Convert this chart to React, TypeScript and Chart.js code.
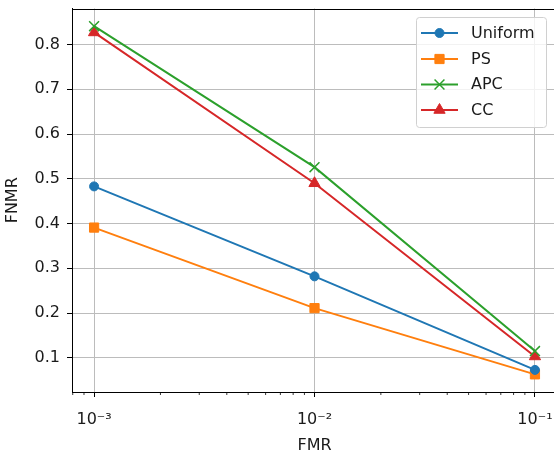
import React, { useEffect, useRef } from 'react';
import { Chart, registerables } from 'chart.js';

Chart.register(...registerables);

// ---- data ----
const fmrValues = [0.001, 0.01, 0.1];
const uniformValues = [0.483, 0.282, 0.073];
const psValues = [0.391, 0.211, 0.063];
const apcValues = [0.841, 0.526, 0.115];
const ccValues = [0.827, 0.49, 0.103];
const seriesNames = ['Uniform', 'PS', 'APC', 'CC'];
const yTickValues = [0.1, 0.2, 0.3, 0.4, 0.5, 0.6, 0.7, 0.8];
const xMajorTicks = [0.001, 0.01, 0.1];
const xMajorLabels = ['10⁻³', '10⁻²', '10⁻¹'];
const xMinorTicks = [
  0.0008, 0.0009,
  0.002, 0.003, 0.004, 0.005, 0.006, 0.007, 0.008, 0.009,
  0.02, 0.03, 0.04, 0.05, 0.06, 0.07, 0.08, 0.09,
];
const xLabel = 'FMR';
const yLabel = 'FNMR';

// ---- styles ----
const FONT = "'DejaVu Sans', sans-serif";
const FONT_SIZE = 16;
const TEXT_COLOR = '#1a1a1a';
const COLORS = ['#1f77b4', '#ff7f0e', '#2ca02c', '#d62728'];
const POINT_STYLES = ['circle', 'rect', 'crossRot', 'triangle'];
const POINT_RADII = [4.5, 6.5, 7, 6.5];
const GRID_COLOR = '#bcbcbc';

const CANVAS_W = 600;
const CANVAS_H = 454;

function drawMarker(ctx: CanvasRenderingContext2D, style: string, x: number, y: number, r: number, color: string) {
  ctx.save();
  ctx.fillStyle = color;
  ctx.strokeStyle = color;
  ctx.lineWidth = 1;
  ctx.beginPath();
  if (style === 'circle') {
    ctx.arc(x, y, r, 0, Math.PI * 2);
    ctx.fill();
    ctx.stroke();
  } else if (style === 'rect') {
    const s = Math.SQRT1_2 * r;
    ctx.rect(x - s, y - s, 2 * s, 2 * s);
    ctx.fill();
    ctx.stroke();
  } else if (style === 'crossRot') {
    const o = Math.SQRT1_2 * r;
    ctx.lineWidth = 1.5;
    ctx.moveTo(x - o, y - o);
    ctx.lineTo(x + o, y + o);
    ctx.moveTo(x - o, y + o);
    ctx.lineTo(x + o, y - o);
    ctx.stroke();
  } else if (style === 'triangle') {
    const a = (2 * Math.PI) / 3;
    ctx.moveTo(x, y - r);
    ctx.lineTo(x + Math.sin(a) * r, y - Math.cos(a) * r);
    ctx.lineTo(x + Math.sin(2 * a) * r, y - Math.cos(2 * a) * r);
    ctx.closePath();
    ctx.fill();
    ctx.stroke();
  }
  ctx.restore();
}

const decorPlugin = {
  id: 'decor',
  afterDatasetsDraw(chart: any) {
    const ctx: CanvasRenderingContext2D = chart.ctx;
    // legend
    const bx = 416.5, by = 17.5, bw = 130, bh = 110, rr = 3;
    ctx.save();
    ctx.beginPath();
    ctx.moveTo(bx + rr, by);
    ctx.lineTo(bx + bw - rr, by);
    ctx.quadraticCurveTo(bx + bw, by, bx + bw, by + rr);
    ctx.lineTo(bx + bw, by + bh - rr);
    ctx.quadraticCurveTo(bx + bw, by + bh, bx + bw - rr, by + bh);
    ctx.lineTo(bx + rr, by + bh);
    ctx.quadraticCurveTo(bx, by + bh, bx, by + bh - rr);
    ctx.lineTo(bx, by + rr);
    ctx.quadraticCurveTo(bx, by, bx + rr, by);
    ctx.closePath();
    ctx.fillStyle = 'rgba(255,255,255,0.8)';
    ctx.fill();
    ctx.strokeStyle = '#d0d0d0';
    ctx.lineWidth = 1;
    ctx.stroke();
    const rowY = [33, 59, 84.5, 110];
    seriesNames.forEach((name, i) => {
      const y = rowY[i];
      ctx.beginPath();
      ctx.strokeStyle = COLORS[i];
      ctx.lineWidth = 2;
      ctx.moveTo(421, y);
      ctx.lineTo(458, y);
      ctx.stroke();
      drawMarker(ctx, POINT_STYLES[i], 439.5, y, POINT_RADII[i], COLORS[i]);
      ctx.fillStyle = TEXT_COLOR;
      ctx.font = `${FONT_SIZE}px ${FONT}`;
      ctx.textBaseline = 'middle';
      ctx.textAlign = 'left';
      ctx.fillText(name, 471, y + 0.5);
    });
    ctx.restore();
  },
  afterDraw(chart: any) {
    const ctx: CanvasRenderingContext2D = chart.ctx;
    const area = chart.chartArea;
    const xs = chart.scales.x;
    ctx.save();
    // top / right frame
    ctx.strokeStyle = '#000';
    ctx.lineWidth = 1;
    ctx.beginPath();
    ctx.moveTo(area.left, Math.round(area.top) + 0.5);
    ctx.lineTo(area.right, Math.round(area.top) + 0.5);
    ctx.moveTo(Math.round(area.right) + 0.5, area.top);
    ctx.lineTo(Math.round(area.right) + 0.5, area.bottom);
    ctx.stroke();
    // minor ticks
    ctx.strokeStyle = '#000';
    ctx.lineWidth = 0.8;
    ctx.beginPath();
    xMinorTicks.forEach((v) => {
      const px = xs.getPixelForValue(v);
      if (px < area.left || px > area.right) return;
      ctx.moveTo(px, area.bottom);
      ctx.lineTo(px, area.bottom + 3);
    });
    ctx.stroke();
    ctx.restore();
  },
};

export default function App() {
  const canvasRef = useRef<HTMLCanvasElement | null>(null);

  useEffect(() => {
    document.body.style.margin = '0';
    const canvas = canvasRef.current;
    if (!canvas) return;
    const allSeries = [uniformValues, psValues, apcValues, ccValues];
    const datasets = allSeries.map((vals, i) => ({
      label: seriesNames[i],
      data: vals.map((v, j) => ({ x: fmrValues[j], y: v })),
      borderColor: COLORS[i],
      backgroundColor: COLORS[i],
      borderWidth: 2,
      tension: 0,
      fill: false,
      pointStyle: POINT_STYLES[i],
      pointRadius: POINT_RADII[i],
      pointBackgroundColor: COLORS[i],
      pointBorderColor: COLORS[i],
      pointBorderWidth: i === 2 ? 1.5 : 1,
      pointHoverRadius: POINT_RADII[i],
    }));

    const isMajor = (v: number) => xMajorTicks.some((m) => Math.abs(m - v) / m < 1e-6);

    const chart = new Chart(canvas, {
      type: 'line',
      data: { datasets },
      options: {
        animation: false,
        responsive: false,
        devicePixelRatio: 1,
        layout: { padding: { left: 0, top: 8, right: CANVAS_W - 557, bottom: 0 } },
        plugins: {
          legend: { display: false },
          tooltip: { enabled: false },
        },
        scales: {
          x: {
            type: 'logarithmic',
            min: 0.000794,
            max: 0.1259,
            afterBuildTicks: (scale: any) => {
              scale.ticks = [...xMajorTicks, ...xMinorTicks]
                .sort((a, b) => a - b)
                .map((v) => ({ value: v, major: false }));
            },
            afterFit: (scale: any) => {
              scale.height = CANVAS_H - 392;
              scale.paddingLeft = 0;
              scale.paddingRight = 0;
            },
            ticks: {
              autoSkip: false,
              maxRotation: 0,
              minRotation: 0,
              padding: 13,
              color: TEXT_COLOR,
              font: { family: FONT, size: FONT_SIZE },
              callback: (value: any) => {
                const idx = xMajorTicks.findIndex((m) => Math.abs(m - Number(value)) / m < 1e-6);
                return idx >= 0 ? xMajorLabels[idx] : '';
              },
            },
            grid: {
              display: true,
              drawOnChartArea: true,
              drawTicks: true,
              tickLength: 5,
              lineWidth: 1,
              color: (c: any) => (c.tick && isMajor(c.tick.value) ? GRID_COLOR : 'rgba(0,0,0,0)'),
              tickColor: (c: any) => (c.tick && isMajor(c.tick.value) ? '#000' : 'rgba(0,0,0,0)'),
            },
            border: { display: true, color: '#000', width: 1 },
            title: {
              display: true,
              text: xLabel,
              color: TEXT_COLOR,
              font: { family: FONT, size: FONT_SIZE, lineHeight: 1 },
              padding: { top: 0, bottom: 0 },
            },
          },
          y: {
            type: 'linear',
            min: 0.0236,
            max: 0.8805,
            afterBuildTicks: (scale: any) => {
              scale.ticks = yTickValues.map((v) => ({ value: v }));
            },
            afterFit: (scale: any) => {
              scale.width = 72;
              scale.paddingTop = 0;
              scale.paddingBottom = 0;
            },
            ticks: {
              padding: 7,
              color: TEXT_COLOR,
              font: { family: FONT, size: FONT_SIZE },
              callback: (value: any) => Number(value).toFixed(1),
            },
            grid: {
              display: true,
              color: GRID_COLOR,
              lineWidth: 1,
              tickLength: 5,
              tickColor: '#000',
            },
            border: { display: true, color: '#000', width: 1 },
            title: {
              display: true,
              text: yLabel,
              color: TEXT_COLOR,
              font: { family: FONT, size: FONT_SIZE },
              padding: { top: 3.5, bottom: 0 },
            },
          },
        },
      },
      plugins: [decorPlugin],
    });

    return () => {
      chart.destroy();
    };
  }, []);

  return (
    <div style={{ position: 'absolute', left: 0, top: 0, width: 554, height: 454, overflow: 'hidden', background: '#fff' }}>
      <canvas ref={canvasRef} width={CANVAS_W} height={CANVAS_H} style={{ width: CANVAS_W, height: CANVAS_H, display: 'block' }} />
    </div>
  );
}
